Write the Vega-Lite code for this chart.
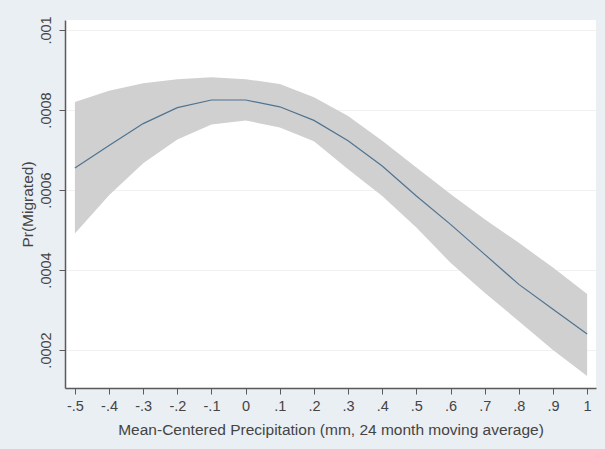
{
  "$schema": "https://vega.github.io/schema/vega-lite/v6.json",
  "autosize": "none",
  "width": 531,
  "height": 368,
  "padding": {"left": 65, "top": 20, "right": 9, "bottom": 61},
  "background": "#eaeff4",
  "config": {
    "view": {"fill": "white", "stroke": null},
    "font": "Liberation Sans",
    "axis": {
      "labelFont": "Liberation Sans",
      "titleFont": "Liberation Sans",
      "labelColor": "#444444",
      "titleColor": "#444444",
      "labelFontSize": 14.5,
      "titleFontSize": 15.5,
      "titleFontWeight": "normal",
      "domainColor": "#5a5a5a",
      "domainWidth": 1.5,
      "tickColor": "#5a5a5a",
      "tickWidth": 1,
      "tickSize": 6,
      "gridColor": "#f1f1f1",
      "gridWidth": 1
    }
  },
  "data": {
    "values": [
      {"x": -0.5, "y": 0.000655, "lo": 0.000491, "hi": 0.000820},
      {"x": -0.4, "y": 0.000711, "lo": 0.000587, "hi": 0.000848},
      {"x": -0.3, "y": 0.000766, "lo": 0.000667, "hi": 0.000867},
      {"x": -0.2, "y": 0.000806, "lo": 0.000726, "hi": 0.000877},
      {"x": -0.1, "y": 0.000825, "lo": 0.000764, "hi": 0.000882},
      {"x": 0.0, "y": 0.000825, "lo": 0.000774, "hi": 0.000877},
      {"x": 0.1, "y": 0.000808, "lo": 0.000756, "hi": 0.000865},
      {"x": 0.2, "y": 0.000774, "lo": 0.000722, "hi": 0.000832},
      {"x": 0.3, "y": 0.000723, "lo": 0.000652, "hi": 0.000785},
      {"x": 0.4, "y": 0.000660, "lo": 0.000585, "hi": 0.000723},
      {"x": 0.5, "y": 0.000585, "lo": 0.000506, "hi": 0.000656},
      {"x": 0.6, "y": 0.000514, "lo": 0.000418, "hi": 0.000590},
      {"x": 0.7, "y": 0.000439, "lo": 0.000343, "hi": 0.000527},
      {"x": 0.8, "y": 0.000364, "lo": 0.000272, "hi": 0.000468},
      {"x": 0.9, "y": 0.000302, "lo": 0.000200, "hi": 0.000406},
      {"x": 1.0, "y": 0.000240, "lo": 0.000135, "hi": 0.000340}
    ]
  },
  "encoding": {
    "x": {
      "field": "x",
      "type": "quantitative",
      "scale": {"domain": [-0.529, 1.026], "nice": false, "zero": false},
      "axis": {
        "title": "Mean-Centered Precipitation (mm, 24 month moving average)",
        "values": [-0.5, -0.4, -0.3, -0.2, -0.1, 0, 0.1, 0.2, 0.3, 0.4, 0.5, 0.6, 0.7, 0.8, 0.9, 1],
        "labelExpr": "replace(toString(round(datum.value*10)/10), '0.', '.')",
        "grid": false,
        "labelPadding": 5,
        "titlePadding": 10
      }
    }
  },
  "layer": [
    {
      "mark": {"type": "area", "color": "#d0d0d0", "opacity": 1},
      "encoding": {
        "y": {
          "field": "lo",
          "type": "quantitative",
          "scale": {"domain": [0.000105, 0.001025], "nice": false, "zero": false},
          "axis": {
            "title": "Pr(Migrated)",
            "values": [0.0002, 0.0004, 0.0006, 0.0008, 0.001],
            "labelExpr": "replace(toString(round(datum.value*100000)/100000), '0.', '.')",
            "labelAngle": -90,
            "labelAlign": "center",
            "labelBaseline": "bottom",
            "labelPadding": 6,
            "titlePadding": 3,
            "grid": true
          }
        },
        "y2": {"field": "hi"}
      }
    },
    {
      "mark": {"type": "line", "color": "#4f7391", "strokeWidth": 1.2},
      "encoding": {
        "y": {"field": "y", "type": "quantitative"}
      }
    }
  ]
}
